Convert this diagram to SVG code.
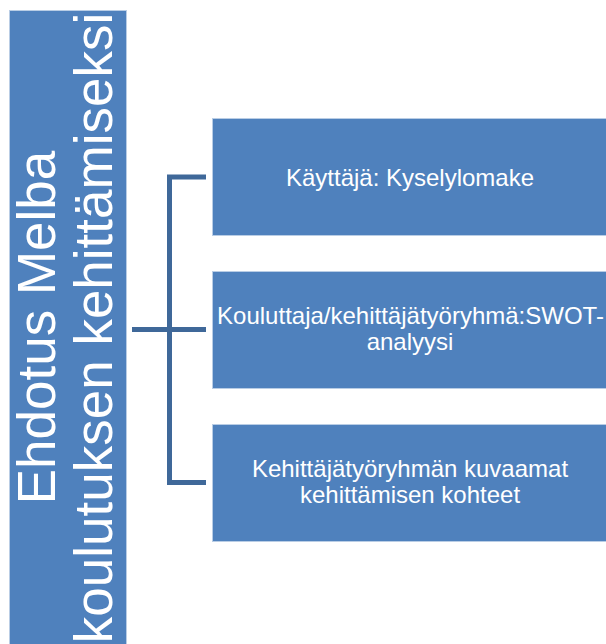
<svg xmlns="http://www.w3.org/2000/svg" width="606" height="644" viewBox="0 0 606 644">
<style>
.box{fill:#4F81BD;stroke:#B9CDE5;stroke-width:1}
.lbl{font-family:"Liberation Sans",Arial,sans-serif;fill:#ffffff;text-anchor:middle}
.t24{font-size:24px}
.t53{font-size:53px}
.conn{fill:none;stroke:#3F6899;stroke-width:5;stroke-linejoin:miter}
</style>
<rect width="606" height="644" fill="#ffffff"/>
<g id="root">
<rect class="box" x="9.5" y="10.5" width="117" height="640"/>
<text class="lbl t53" transform="translate(55,327.5) rotate(-90)">Ehdotus Melba</text>
<text class="lbl t53" transform="translate(112,328) rotate(-90)">koulutuksen kehittämiseksi</text>
</g>
<g id="connectors">
<path class="conn" d="M206,177 H169.5 V482.5 H206"/>
<path class="conn" d="M132,329.5 H206"/>
</g>
<g id="node1">
<rect class="box" x="212.5" y="118.5" width="396" height="117"/>
<text class="lbl t24" x="410" y="185.5">Käyttäjä: Kyselylomake</text>
</g>
<g id="node2">
<rect class="box" x="212.5" y="271.5" width="396" height="117"/>
<text class="lbl t24" x="410.5" y="324">Kouluttaja/kehittäjätyöryhmä:SWOT-</text>
<text class="lbl t24" x="410" y="350">analyysi</text>
</g>
<g id="node3">
<rect class="box" x="212.5" y="424.5" width="396" height="117"/>
<text class="lbl t24" x="410" y="477">Kehittäjätyöryhmän kuvaamat</text>
<text class="lbl t24" x="410" y="503">kehittämisen kohteet</text>
</g>
</svg>
